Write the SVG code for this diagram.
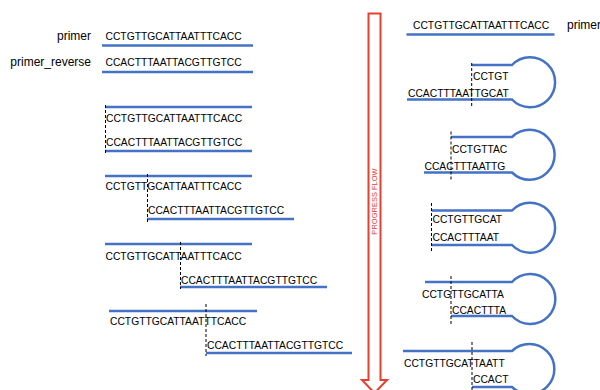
<svg xmlns="http://www.w3.org/2000/svg" width="600" height="390" viewBox="0 0 600 390">
<style>
.seq{font-family:"Liberation Sans",Arial,sans-serif;font-size:10.3px;fill:#000}
.lbl{font-family:"Liberation Sans",Arial,sans-serif;font-size:12px;fill:#000}
.s{stroke:#4472c4;stroke-width:2.5;fill:none}
.d{stroke:#000;stroke-width:1;stroke-dasharray:3 2;fill:none}
.arr{fill:#fff;stroke:#e8402f;stroke-width:2}
.flow{font-family:"Liberation Sans",Arial,sans-serif;font-size:7.5px;fill:#e8402f}
</style>
<rect width="600" height="390" fill="#fff"/>
<g id="primer">
<text class="lbl" x="91" y="40" text-anchor="end">primer</text>
<text class="seq" x="105.5" y="40">CCTGTTGCATTAATTTCACC</text>
<line class="s" x1="102" y1="45.5" x2="253" y2="45.5"/>
</g>
<g id="primer_reverse">
<text class="lbl" x="91" y="66" text-anchor="end">primer_reverse</text>
<text class="seq" x="105.5" y="66">CCACTTTAATTACGTTGTCC</text>
<line class="s" x1="102" y1="72" x2="253" y2="72"/>
</g>
<g id="step1">
<line class="s" x1="105" y1="107" x2="252" y2="107"/>
<text class="seq" x="106" y="121.5">CCTGTTGCATTAATTTCACC</text>
<text class="seq" x="106" y="145.5">CCACTTTAATTACGTTGTCC</text>
<line class="s" x1="105" y1="151" x2="252" y2="151"/>
<line class="d" x1="105.5" y1="105" x2="105.5" y2="153"/>
</g>
<g id="step2">
<line class="s" x1="105" y1="176" x2="252" y2="176"/>
<text class="seq" x="105.5" y="189.5">CCTGTTGCATTAATTTCACC</text>
<text class="seq" x="148" y="213.5">CCACTTTAATTACGTTGTCC</text>
<line class="s" x1="147" y1="219" x2="294" y2="219"/>
<line class="d" x1="147.5" y1="174" x2="147.5" y2="223"/>
</g>
<g id="step3">
<line class="s" x1="105" y1="244" x2="252" y2="244"/>
<text class="seq" x="105.5" y="259.5">CCTGTTGCATTAATTTCACC</text>
<text class="seq" x="181" y="283.5">CCACTTTAATTACGTTGTCC</text>
<line class="s" x1="180" y1="287" x2="327" y2="287"/>
<line class="d" x1="180.5" y1="242" x2="180.5" y2="289"/>
</g>
<g id="step4">
<line class="s" x1="109" y1="311" x2="257" y2="311"/>
<text class="seq" x="110" y="325">CCTGTTGCATTAATTTCACC</text>
<text class="seq" x="207" y="349">CCACTTTAATTACGTTGTCC</text>
<line class="s" x1="206" y1="353" x2="352" y2="353"/>
<line class="d" x1="206" y1="304" x2="206" y2="356"/>
</g>
<g id="connectors">
<path class="arr" d="M368.5,13.5 H380.5 V380 H387 L374.5,393 L362,380 H368.5 Z"/>
<text class="flow" transform="translate(377,201.5) rotate(-90)" text-anchor="middle">PROGRESS FLOW</text>
</g>
<g id="primer_right">
<text class="seq" x="413" y="28.5">CCTGTTGCATTAATTTCACC</text>
<line class="s" x1="406.5" y1="34.5" x2="554.5" y2="34.5"/>
<text class="lbl" x="567" y="29">primer</text>
</g>
<g id="hairpin1">
<path class="s" d="M471.7,65 H512 A25,25 0 1 1 512,99.5 H407"/>
<text class="seq" x="473" y="80">CCTGT</text>
<text class="seq" x="408" y="97">CCACTTTAATTGCAT</text>
<line class="d" x1="471.7" y1="63" x2="471.7" y2="108"/>
</g>
<g id="hairpin2">
<path class="s" d="M451,137 H512 A25,25 0 1 1 512,172.5 H424"/>
<text class="seq" x="452" y="153">CCTGTTAC</text>
<text class="seq" x="424.5" y="170">CCACTTTAATTG</text>
<line class="d" x1="451" y1="131.5" x2="451" y2="180"/>
</g>
<g id="hairpin3">
<path class="s" d="M431.5,210.5 H512 A25,25 0 1 1 512,245 H431.5"/>
<text class="seq" x="432.5" y="222.5">CCTGTTGCAT</text>
<text class="seq" x="432.5" y="241">CCACTTTAAT</text>
<line class="d" x1="431.5" y1="203" x2="431.5" y2="252"/>
</g>
<g id="hairpin4">
<path class="s" d="M425,282 H512 A25,25 0 1 1 512,316 H451"/>
<text class="seq" x="422" y="297.5">CCTGTTGCATTA</text>
<text class="seq" x="452" y="313.5">CCACTTTA</text>
<line class="d" x1="451" y1="276" x2="451" y2="324"/>
</g>
<g id="hairpin5">
<path class="s" d="M403,351 H512 A25,25 0 1 1 512,387 H472"/>
<text class="seq" x="404" y="367">CCTGTTGCATTAATT</text>
<text class="seq" x="473" y="383">CCACT</text>
<line class="d" x1="472" y1="342" x2="472" y2="390"/>
</g>
</svg>
